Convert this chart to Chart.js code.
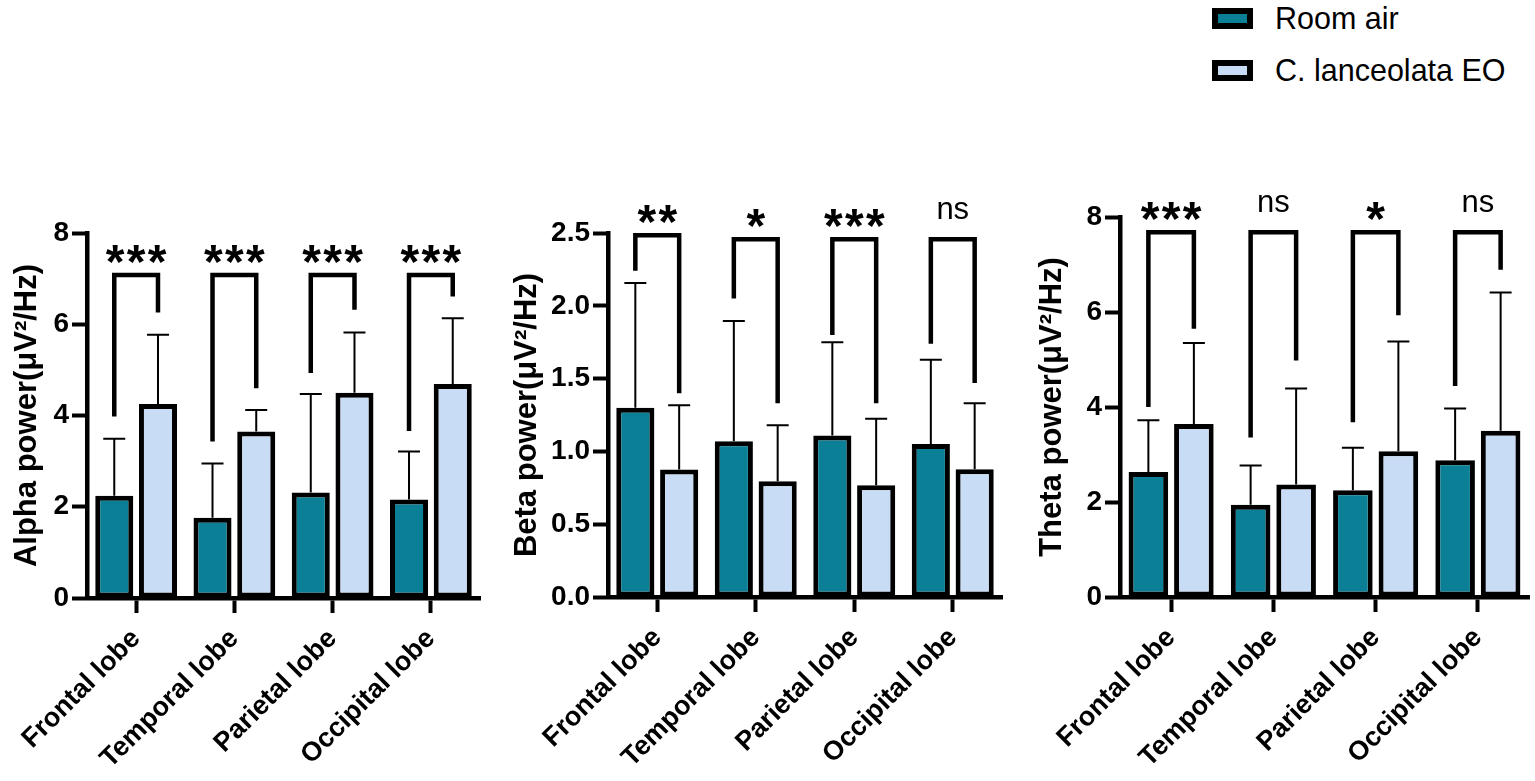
<!DOCTYPE html>
<html>
<head>
<meta charset="utf-8">
<script src="https://cdn.jsdelivr.net/npm/chart.js@4.4.1/dist/chart.umd.min.js"></script>
<style>
  body { margin: 0; background: #fff; width: 1535px; height: 781px; overflow: hidden; position: relative;
         font-family: "Liberation Sans", Arial, sans-serif; }
  canvas { position: absolute; top: 0; }
  #legend { position: absolute; left: 1212px; top: -8px; }
  .item { display: flex; align-items: center; height: 52px; font-size: 30.5px; color: #000; }
  .swatch { width: 29px; height: 9px; border: 6px solid #000; margin-right: 22px; }
</style>
</head>
<body>
<div id="legend"></div>
<canvas id="alpha" width="490" height="781" style="left:0px"></canvas>
<canvas id="beta" width="510" height="781" style="left:500px"></canvas>
<canvas id="theta" width="510" height="781" style="left:1025px"></canvas>
<script>
// categories and groups
const lobes = ['Frontal lobe', 'Temporal lobe', 'Parietal lobe', 'Occipital lobe'];
const groups = ['Room air', 'C. lanceolata EO'];
const groupColors = ['#0b7f95', '#c8ddf5'];

// alpha power (mean, mean + SD)
const alphaRoom = [2.24, 1.76, 2.31, 2.16];
const alphaOil = [4.25, 3.65, 4.50, 4.69];
const alphaRoomErr = [3.49, 2.95, 4.47, 3.21];
const alphaOilErr = [5.77, 4.12, 5.82, 6.13];

// beta power
const betaRoom = [1.30, 1.07, 1.11, 1.05];
const betaOil = [0.875, 0.795, 0.767, 0.877];
const betaRoomErr = [2.157, 1.896, 1.75, 1.63];
const betaOilErr = [1.317, 1.18, 1.225, 1.33];

// theta power
const thetaRoom = [2.63, 1.94, 2.25, 2.88];
const thetaOil = [3.64, 2.37, 3.07, 3.50];
const thetaRoomErr = [3.72, 2.77, 3.14, 3.97];
const thetaOilErr = [5.35, 4.39, 5.38, 6.41];

// significance brackets: top line, left leg end, right leg end, label
const alphaBrTop = [7.08, 7.08, 7.08, 7.08];
const alphaBrLeft = [3.98, 3.43, 4.93, 3.66];
const alphaBrRight = [6.26, 4.60, 6.32, 6.61];
const alphaSig = ['***', '***', '***', '***'];

const betaBrTop = [2.484, 2.457, 2.457, 2.457];
const betaBrLeft = [2.24, 2.05, 1.80, 1.74];
const betaBrRight = [1.40, 1.33, 1.33, 1.47];
const betaSig = ['**', '*', '***', 'ns'];

const thetaBrTop = [7.68, 7.68, 7.68, 7.68];
const thetaBrLeft = [4.00, 3.36, 3.68, 4.44];
const thetaBrRight = [5.65, 4.98, 5.93, 6.89];
const thetaSig = ['***', 'ns', '*', 'ns'];

const FONT = '"Liberation Sans", Arial, sans-serif';
Chart.defaults.font.family = FONT;
Chart.defaults.color = '#000';

// legend
const legend = document.getElementById('legend');
groups.forEach((g, i) => {
    const row = document.createElement('div');
    row.className = 'item';
    row.innerHTML = '<span class="swatch" style="background:' + groupColors[i] + '"></span>' + g;
    legend.appendChild(row);
});

// error bars + brackets
const annot = {
    id: 'annot',
    afterDatasetsDraw(chart, args, o) {
        const ctx = chart.ctx;
        const y = chart.scales.y;
        const metas = [chart.getDatasetMeta(0), chart.getDatasetMeta(1)];
        ctx.save();
        ctx.strokeStyle = '#000';
        ctx.fillStyle = '#000';
        metas.forEach((m, d) => {
            m.data.forEach((bar, j) => {
                const yt = y.getPixelForValue(o.err[d][j]);
                ctx.lineWidth = 2;
                ctx.beginPath();
                ctx.moveTo(bar.x, bar.y);
                ctx.lineTo(bar.x, yt);
                ctx.moveTo(bar.x - 11, yt);
                ctx.lineTo(bar.x + 11, yt);
                ctx.stroke();
            });
        });
        o.top.forEach((t, j) => {
            const xl = metas[0].data[j].x, xr = metas[1].data[j].x;
            const yt = y.getPixelForValue(t);
            ctx.lineWidth = 4.5;
            ctx.lineJoin = 'miter';
            ctx.beginPath();
            ctx.moveTo(xl, y.getPixelForValue(o.left[j]));
            ctx.lineTo(xl, yt);
            ctx.lineTo(xr, yt);
            ctx.lineTo(xr, y.getPixelForValue(o.right[j]));
            ctx.stroke();
            const cx = (xl + xr) / 2;
            const s = o.sig[j];
            ctx.textAlign = 'center';
            ctx.textBaseline = 'alphabetic';
            if (s === 'ns') {
                ctx.font = '31px ' + FONT;
                ctx.fillText(s, cx, yt - 20);
            } else {
                ctx.font = 'bold 48px ' + FONT;
                for (let k = 0; k < s.length; k++) {
                    ctx.fillText('*', cx + (k - (s.length - 1) / 2) * 21, yt + 3);
                }
            }
        });
        ctx.restore();
    }
};

function panel(id, p) {
    new Chart(document.getElementById(id), {
        type: 'bar',
        data: {
            labels: lobes,
            datasets: [p.room, p.oil].map((vals, i) => ({
                label: groups[i],
                data: vals,
                backgroundColor: groupColors[i],
                borderColor: '#000',
                borderWidth: 5,
                borderSkipped: false,
                categoryPercentage: 0.89,
                barPercentage: 0.87
            }))
        },
        options: {
            responsive: false,
            animation: false,
            layout: { padding: { left: 0, top: p.top, right: p.right, bottom: 0 } },
            plugins: {
                legend: { display: false },
                tooltip: { enabled: false },
                annot: { err: p.err, top: p.brTop, left: p.brLeft, right: p.brRight, sig: p.sig }
            },
            scales: {
                x: {
                    ticks: { color: '#000', font: { weight: 'bold', size: 27 }, minRotation: 45, maxRotation: 45, padding: 10 },
                    grid: { offset: false, drawOnChartArea: false, tickLength: 15, tickWidth: 4, tickColor: '#000' },
                    border: { color: '#000', width: 4.5 },
                    afterFit(s) { s.height = 781 - p.bottom; }
                },
                y: {
                    min: 0,
                    max: p.max,
                    ticks: { stepSize: p.step, color: '#000', font: { weight: 'bold', size: 28 }, padding: 3,
                             callback: v => v.toFixed(p.dec) },
                    grid: { drawOnChartArea: false, tickLength: 15, tickWidth: 4, tickColor: '#000' },
                    border: { color: '#000', width: 4.5 },
                    title: { display: true, text: p.title, color: '#000', font: { weight: 'bold', size: 31 },
                             padding: { top: 9, bottom: 0 } },
                    afterFit(s) { s.width = p.yWidth; }
                }
            }
        },
        plugins: [annot]
    });
}

panel('alpha', {
    room: alphaRoom, oil: alphaOil, err: [alphaRoomErr, alphaOilErr],
    brTop: alphaBrTop, brLeft: alphaBrLeft, brRight: alphaBrRight, sig: alphaSig,
    title: 'Alpha power(μV²/Hz)', max: 8, step: 2, dec: 0,
    top: 233, bottom: 598, yWidth: 87, right: 10
});
panel('beta', {
    room: betaRoom, oil: betaOil, err: [betaRoomErr, betaOilErr],
    brTop: betaBrTop, brLeft: betaBrLeft, brRight: betaBrRight, sig: betaSig,
    title: 'Beta power(μV²/Hz)', max: 2.5, step: 0.5, dec: 1,
    top: 233, bottom: 597, yWidth: 108, right: 8
});
panel('theta', {
    room: thetaRoom, oil: thetaOil, err: [thetaRoomErr, thetaOilErr],
    brTop: thetaBrTop, brLeft: thetaBrLeft, brRight: thetaBrRight, sig: thetaSig,
    title: 'Theta power(μV²/Hz)', max: 8, step: 2, dec: 0,
    top: 217, bottom: 597, yWidth: 95, right: 6
});
</script>
</body>
</html>
